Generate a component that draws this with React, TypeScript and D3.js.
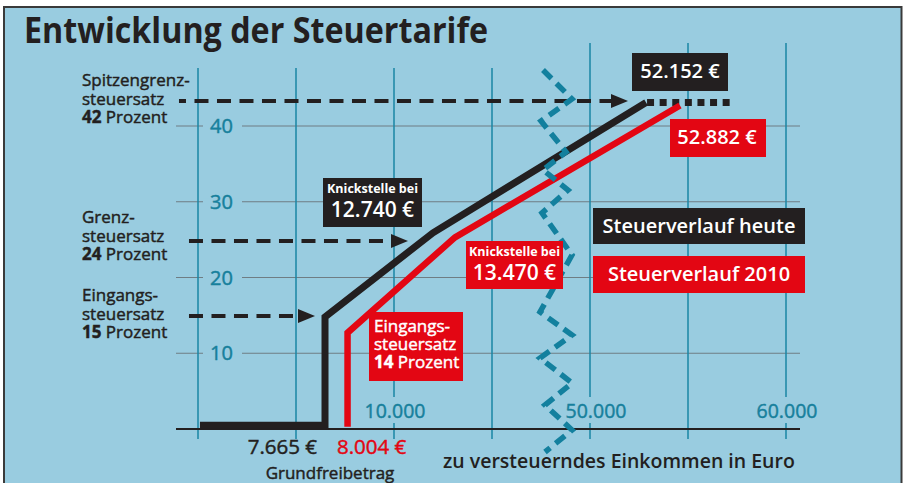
import React from "react";
import * as d3 from "d3";

const W = 903;
const H = 483;

// ---- data ----
const rateTicks = [10, 20, 30, 40];
const incomeGrid = [0, 5000, 10000, 15000, 50000, 55000, 60000];
const incomeTickLabels = [10000, 50000, 60000];

// curves read from the (schematic) picture: [income, rate %]
const curveToday: [number, number][] = [
  [100, 0.5],
  [6480, 0.5],
  [6480, 14.8],
  [11990, 25.9],
  [52860, 43.1],
];
const curveTodayTail: [number, number][] = [
  [52860, 43.1],
  [57150, 43.1],
];
const curve2010: [number, number][] = [
  [7630, 0.3],
  [7630, 12.7],
  [13110, 25.3],
  [54590, 42.7],
];

// dashed arrows: level, start & tip income
const arrowLevels = [43.3, 24.8, 14.9];
const arrowStarts = [-970, -460, -460];
const arrowTips = [51940, 10714, 5970];
const arrowLabelTop = ["Spitzengrenz-", "Grenz-", "Eingangs-"];
const arrowRates = [42, 24, 15];

// key values
const freeToday = 7665;
const free2010 = 8004;
const kinkToday = 12740;
const kink2010 = 13470;
const topToday = 52152;
const top2010 = 52882;
const rate2010Entry = 14;

const seriesNames = ["Steuerverlauf heute", "Steuerverlauf 2010"];

// ---- styles ----
const BG = "#99cce0";
const DARK = "#231f20";
const RED = "#e30613";
const TEAL = "#1a86a4";
const TEAL_TEXT = "#17809c";
const GRIDH = "#6f7d84";
const FONT = "'Open Sans', 'Noto Sans', sans-serif";

const loc = d3.formatLocale({
  decimal: ",",
  thousands: ".",
  grouping: [3],
  currency: ["", " €"],
});
const fmt = loc.format(",");
const eur = (v: number) => `${fmt(v)} €`;

const med = (c: string) => ({ stroke: c, strokeWidth: 0.45 });

export default function App() {
  const x = d3
    .scaleLinear()
    .domain([0, 15000, 50000, 60000])
    .range([198, 492, 590, 786]);
  const y = d3.scaleLinear().domain([0, 40]).range([429, 126]);

  const line = d3
    .line<[number, number]>()
    .x((d) => x(d[0]))
    .y((d) => y(d[1]));

  // axis break zigzag (decorative)
  const zig: [number, number][] = [
    [543, 70], [572, 99], [541, 121], [566, 152], [543, 170], [568, 190],
    [542, 213], [572, 255], [540, 312], [572, 335], [540, 358], [572, 383],
    [545, 405], [572, 430], [545, 452],
  ];
  const zigPath = d3.line()(zig) as string;

  const leftTop = 176;
  const rightEnd = 800;
  const leftBases = [86, 223, 301];
  const lh = 18.5;

  return (
    <svg
      width={W}
      height={H}
      style={{ position: "absolute", left: 0, top: 0, background: "#fff" }}
      fontFamily={FONT}
    >
      <rect x={4} y={7} width={897.5} height={H} fill={BG} stroke="#3a3a3a" strokeWidth={2} />

      <text
        x={24}
        y={43}
        fontSize={35}
        fontWeight={700}
        fill={DARK}
        textLength={464}
        lengthAdjust="spacingAndGlyphs"
      >
        Entwicklung der Steuertarife
      </text>

      {/* horizontal grid */}
      {rateTicks.map((t) => (
        <g key={"h" + t}>
          <line x1={leftTop} x2={rightEnd} y1={y(t)} y2={y(t)} stroke={GRIDH} strokeWidth={1} />
          <rect x={203} y={y(t) - 3} width={39} height={6} fill={BG} />
        </g>
      ))}

      {/* vertical grid */}
      {incomeGrid.map((v) => (
        <line
          key={"v" + v}
          x1={x(v)}
          x2={x(v)}
          y1={v >= 50000 ? 43 : 68}
          y2={439}
          stroke={TEAL}
          strokeWidth={1.5}
        />
      ))}

      {/* y tick labels */}
      {rateTicks.map((t) => (
        <text key={"yl" + t} x={210} y={y(t) + 7} fontSize={20} fill={TEAL_TEXT} {...med(TEAL_TEXT)}>
          {t}
        </text>
      ))}

      {/* x tick labels with knockout */}
      {incomeTickLabels.map((v) => {
        const cx = x(v) + (v === 50000 ? 6 : 1);
        return (
          <g key={"xl" + v}>
            <rect x={cx - 36} y={397} width={72} height={26} fill={BG} />
            <text x={cx} y={418} fontSize={19.5} fill={TEAL_TEXT} textAnchor="middle" {...med(TEAL_TEXT)}>
              {fmt(v)}
            </text>
          </g>
        );
      })}

      {/* x axis */}
      <line x1={leftTop} x2={rightEnd} y1={y(0)} y2={y(0)} stroke={DARK} strokeWidth={2} />

      {/* dashed arrows */}
      {arrowLevels.map((lv, i) => {
        const yy = Math.round(y(lv));
        const tip = x(arrowTips[i]);
        const x0 = x(arrowStarts[i]);
        return (
          <g key={"ar" + i}>
            <line
              x1={x0}
              x2={tip - 15}
              y1={yy}
              y2={yy}
              stroke={DARK}
              strokeWidth={4}
              strokeDasharray="14 8.5"
              strokeDashoffset={i === 0 ? 7 : 0}
            />
            <path d={`M${tip - 17},${yy - 7} L${tip},${yy} L${tip - 17},${yy + 7} Z`} fill={DARK} />
          </g>
        );
      })}

      {/* curves */}
      <path
        d={line(curveTodayTail) as string}
        fill="none"
        stroke={DARK}
        strokeWidth={7}
        strokeDasharray="7 5.6"
        transform="translate(1,0)"
      />
      <path d={line(curve2010) as string} fill="none" stroke={RED} strokeWidth={6.5} strokeLinejoin="miter" />
      <path d={line(curveToday) as string} fill="none" stroke={DARK} strokeWidth={7} strokeLinejoin="miter" />

      {/* axis break */}
      <path d={zigPath} fill="none" stroke="#13809e" strokeWidth={5.5} strokeDasharray="12 7" />

      {/* left annotations: one text per line */}
      {arrowLabelTop.map((lbl, i) => (
        <text key={"lt1" + i} x={82} y={leftBases[i]} fontSize={17} fill={DARK} {...med(DARK)}>
          {lbl}
        </text>
      ))}
      {arrowLabelTop.map((_, i) => (
        <text key={"lt2" + i} x={82} y={leftBases[i] + lh} fontSize={17} fill={DARK} {...med(DARK)}>
          steuersatz
        </text>
      ))}
      {arrowRates.map((r, i) => (
        <text key={"lt3" + i} x={82} y={leftBases[i] + 2 * lh} fontSize={17} fill={DARK} {...med(DARK)}>
          <tspan fontWeight={700}>{r}</tspan>
          <tspan> Prozent</tspan>
        </text>
      ))}

      {/* top value boxes */}
      <rect x={632} y={53} width={96} height={38} fill={DARK} />
      <text x={680} y={78} fontSize={20} fontWeight={600} fill="#fff" textAnchor="middle">
        {eur(topToday)}
      </text>
      <rect x={670} y={119} width={96} height={38} fill={RED} />
      <text x={717} y={144} fontSize={20} fontWeight={600} fill="#fff" textAnchor="middle">
        {eur(top2010)}
      </text>

      {/* kink boxes */}
      <rect x={323} y={178} width={99} height={49} fill={DARK} />
      <text x={372.5} y={193} fontSize={12.5} fontWeight={700} fill="#fff" textAnchor="middle">
        Knickstelle bei
      </text>
      <text x={372.5} y={217} fontSize={21} fontWeight={600} fill="#fff" textAnchor="middle">
        {eur(kinkToday)}
      </text>
      <rect x={466} y={241} width={97} height={48} fill={RED} />
      <text x={514.5} y={256} fontSize={12.5} fontWeight={700} fill="#fff" textAnchor="middle">
        Knickstelle bei
      </text>
      <text x={514.5} y={280} fontSize={21} fontWeight={600} fill="#fff" textAnchor="middle">
        {eur(kink2010)}
      </text>

      {/* 2010 entry rate box */}
      <rect x={369} y={312} width={94} height={69} fill={RED} />
      <text x={374} y={332} fontSize={17} fill="#fff" {...med("#fff")}>
        Eingangs-
      </text>
      <text x={374} y={350} fontSize={17} fill="#fff" {...med("#fff")}>
        steuersatz
      </text>
      <text x={374} y={368} fontSize={17} fill="#fff" {...med("#fff")}>
        <tspan fontWeight={700}>{rate2010Entry}</tspan>
        <tspan> Prozent</tspan>
      </text>

      {/* legend */}
      <rect x={593} y={208} width={212} height={36} fill={DARK} />
      <text x={699} y={233} fontSize={20} fontWeight={600} fill="#fff" textAnchor="middle">
        {seriesNames[0]}
      </text>
      <rect x={593} y={256} width={212} height={37} fill={RED} />
      <text x={699} y={281} fontSize={20} fontWeight={600} fill="#fff" textAnchor="middle">
        {seriesNames[1]}
      </text>

      {/* bottom labels */}
      <text x={317} y={454} fontSize={20.5} fill={DARK} textAnchor="end" {...med(DARK)}>
        {eur(freeToday)}
      </text>
      <text x={337} y={454} fontSize={20.5} fill={RED} {...med(RED)}>
        {eur(free2010)}
      </text>
      <text x={330} y={479} fontSize={17} fill={DARK} textAnchor="middle" {...med(DARK)}>
        Grundfreibetrag
      </text>
      <text x={443} y={468} fontSize={19.5} fontWeight={600} fill={DARK}>
        zu versteuerndes Einkommen in Euro
      </text>
    </svg>
  );
}
